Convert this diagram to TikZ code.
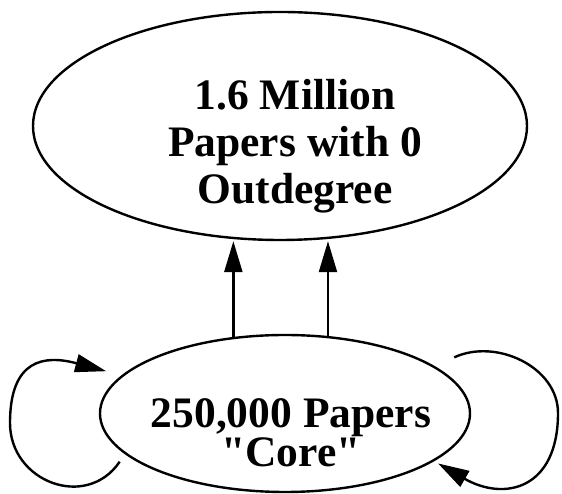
\documentclass[tikz,border=0pt]{standalone}
\usepackage{fontspec}
\setmainfont{Liberation Serif}
\usepackage{tikz}
\usetikzlibrary{shapes.geometric, arrows.meta}

\begin{document}
\begin{tikzpicture}[x=1pt, y=1pt]

% Defined styles
\tikzstyle{setnode} = [ellipse, draw=black, line width=2.4pt, inner sep=0pt]
\tikzstyle{settext} = [align=center, inner sep=0pt, font=\bfseries\fontsize{43.5}{47}\selectfont]
\tikzstyle{arrow} = [line width=2.4pt, ->, >={Triangle[length=31pt, width=18pt]}]

\useasboundingbox (0,0) rectangle (562,494);

% --- Paper sets ---
\node (sink) [setnode, minimum width=494pt, minimum height=228pt] at (280,368) {};
\node (core) [setnode, minimum width=370pt, minimum height=157pt] at (285,80.5) {};

% --- Labels ---
\node (sinktext) [settext] at (295,347.5) {1.6 Million\\Papers with 0\\Outdegree};
\node (coretext) [settext, font=\bfseries\fontsize{43.5}{35}\selectfont] at (291,61) {250,000 Papers\\\textquotedbl Core\textquotedbl};

% --- Arrows ---
\draw [arrow] (core.124.6) -- (core.124.6 |- sink.south);
\draw [arrow] (core.61.2) -- (core.61.2 |- sink.south);

% Self loops on the core
\draw [arrow] ([xshift=-17pt]core.198.6) to[out=236, in=-90, looseness=1.3] (10,71)
  to[out=90, in=165, looseness=1.5] ([xshift=-21pt]core.165.7);
\draw [arrow] ([xshift=37pt]core.23) to[out=25, in=90, looseness=1] (558,81)
  to[out=-90, in=-30, looseness=1.5] ([xshift=8pt]core.-19);

\end{tikzpicture}
\end{document}
